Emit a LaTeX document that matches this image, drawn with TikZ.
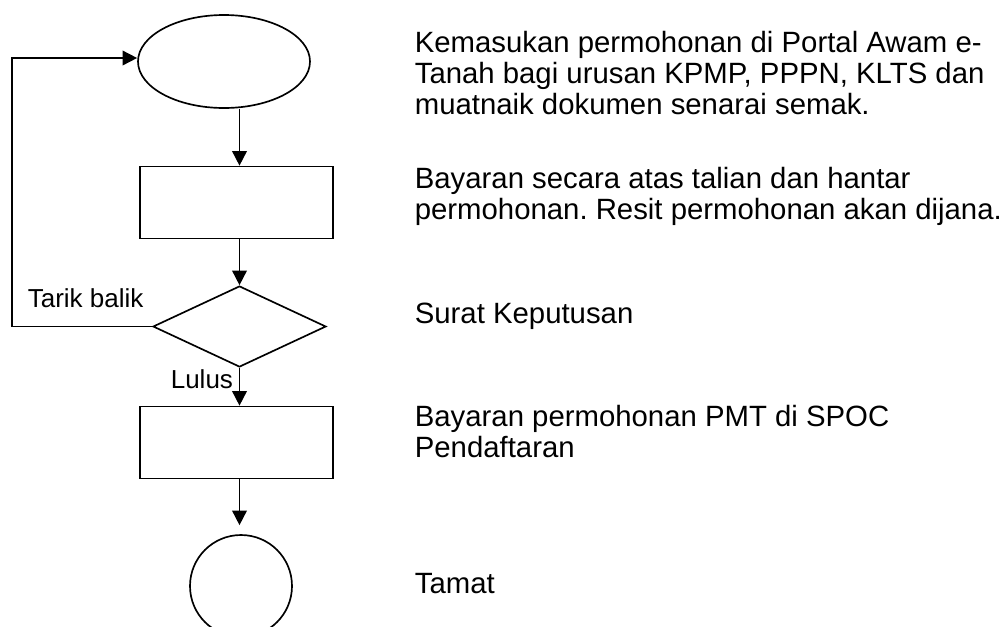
\documentclass[tikz,border=0pt]{standalone}
\usepackage{fontspec}
\setmainfont{Liberation Sans}
\usetikzlibrary{arrows.meta}
\usetikzlibrary{shapes.geometric}
\frenchspacing

\begin{document}
\begin{tikzpicture}[x=0.75pt, y=-0.75pt, line width=1.25pt,
    arr/.style={-{Triangle[length=11pt, width=11pt]}},
    box/.style={draw, rectangle, minimum width=144.75pt, minimum height=54pt, inner sep=0pt},
    note/.style={anchor=base west, inner sep=0pt, align=left,
        font=\fontsize{22pt}{23.25pt}\selectfont},
    lbl/.style={anchor=base west, inner sep=0pt, font=\fontsize{19.5pt}{22pt}\selectfont}]
    \useasboundingbox (0, 0) rectangle (1003, 626);
    % carta alir
    \node[draw, ellipse, minimum width=129pt, minimum height=69.75pt, inner sep=0pt] (mula) at (224, 61.5) {};
    \node[box] (bayar) at (236.5, 202.5) {};
    \node[draw, diamond, aspect=2.14, minimum width=129.75pt, minimum height=60.75pt, inner sep=0pt] (kep) at (239.5, 326.5) {};
    \node[box] (daftar) at (236.5, 442.5) {};
    \node[draw, circle, minimum size=76.5pt, inner sep=0pt] (tamat) at (241, 586) {};
    \coordinate (balik) at (12, 58);

    \draw[arr] (mula.south -| kep) -- (bayar.north -| kep);
    \draw[arr] (bayar.south -| kep) -- (kep.north);
    \draw[arr] (kep.south) -- (daftar.north -| kep);
    \draw[arr, shorten >=6.75pt] (daftar.south -| kep) -- (tamat.north -| kep);
    \draw[arr] (kep.west) -| (balik) -- (mula.west |- balik);

    \node[lbl] (tarik) at (27, 307) {Tarik balik};
    \node[lbl] (lulus) at (170, 388) {Lulus};

    % keterangan (base = baris terakhir)
    \node[note] (k1) at (414, 114) {Kemasukan permohonan di Portal Awam e-\\Tanah bagi urusan KPMP, PPPN, KLTS dan\\muatnaik dokumen senarai semak.};
    \node[note] (k2) at (414, 219) {Bayaran secara atas talian dan hantar\\permohonan. Resit permohonan akan dijana.};
    \node[note] (k3) at (414, 323) {Surat Keputusan};
    \node[note] (k4) at (414, 457) {Bayaran permohonan PMT di SPOC\\Pendaftaran};
    \node[note] (k5) at (414, 593) {Tamat};
\end{tikzpicture}
\end{document}
